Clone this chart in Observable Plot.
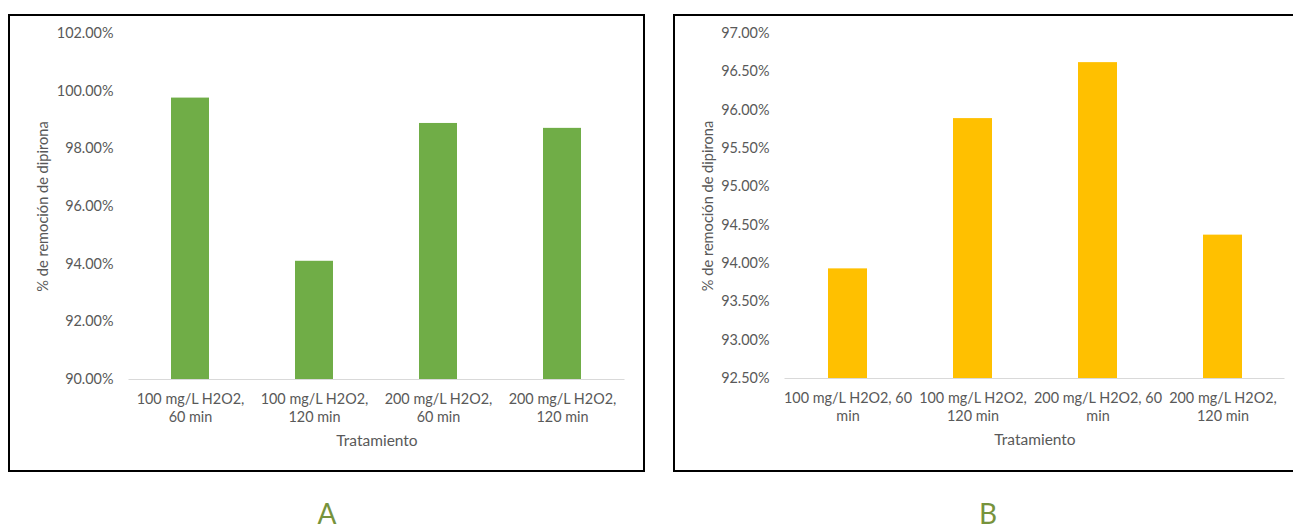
<!DOCTYPE html>
<html>
<head>
<meta charset="utf-8">
<script src="https://cdn.jsdelivr.net/npm/d3@7"></script>
<script src="https://cdn.jsdelivr.net/npm/@observablehq/plot@0.6"></script>
<style>
  html, body { margin: 0; padding: 0; background: #fff; }
  body { width: 1293px; height: 528px; position: relative; overflow: hidden; font-family: Lato, "Open Sans", sans-serif; }
  .frame { position: absolute; border: 2px solid #000; box-sizing: border-box; }
  .chart { position: absolute; }
  .panel-tag { position: absolute; width: 80px; margin-left: -40px; text-align: center; color: #77933c; font-size: 28px; font-weight: 400; line-height: 1; }
</style>
</head>
<body>
<div class="frame" style="left:8px; top:14px; width:637px; height:458px;"></div>
<div class="frame" style="left:673px; top:14px; width:660px; height:458px;"></div>
<div class="chart" id="chartA" style="left:10px; top:16px;"></div>
<div class="chart" id="chartB" style="left:675px; top:16px;"></div>
<div class="panel-tag" style="left:327px; top:499px;">A</div>
<div class="panel-tag" style="left:988px; top:499px;">B</div>
<script>
// Treatments (categories) for each panel; "\n" marks the wrapped second line
const categoriesA = ["100 mg/L H2O2,\n60 min", "100 mg/L H2O2,\n120 min", "200 mg/L H2O2,\n60 min", "200 mg/L H2O2,\n120 min"];
const categoriesB = ["100 mg/L H2O2, 60\nmin", "100 mg/L H2O2,\n120 min", "200 mg/L H2O2, 60\nmin", "200 mg/L H2O2,\n120 min"];

// % removal of dipyrone
const removalA = [99.76, 94.10, 98.88, 98.71];
const removalB = [93.93, 95.89, 96.62, 94.37];

// Value-axis ticks
const ticksA = [90, 92, 94, 96, 98, 100, 102];
const ticksB = [92.5, 93, 93.5, 94, 94.5, 95, 95.5, 96, 96.5, 97];

const xTitle = "Tratamiento";
const yTitle = "% de remoción de dipirona";

const textColor = "#595959";
const fontFamily = "Lato, 'Open Sans', sans-serif";

function barPanel({categories, values, ticks, fill, width, height, margins, yTitleOffset}) {
  const data = categories.map((c, i) => ({category: c, value: values[i]}));
  const yMin = ticks[0];
  const yMax = ticks[ticks.length - 1];
  return Plot.plot({
    width, height,
    ...margins,
    style: {fontFamily, fontSize: "14.4px", color: textColor, background: "transparent", overflow: "visible"},
    x: {domain: categories, paddingInner: 0.69, paddingOuter: 0.345},
    y: {domain: [yMin, yMax]},
    marks: [
      Plot.barY(data, {x: "category", y1: yMin, y2: "value", fill}),
      Plot.ruleY([yMin], {stroke: "#d9d9d9", strokeWidth: 1.2}),
      Plot.axisY({ticks, tickSize: 0, tickPadding: 15.5, tickFormat: d => d.toFixed(2) + "%", label: null, fill: textColor}),
      Plot.axisX({tickSize: 0, tickPadding: 11, lineHeight: 1.27, label: null, fill: textColor}),
      Plot.text([xTitle], {frameAnchor: "bottom", dy: 62, lineAnchor: "middle", fontSize: 15.5, fill: textColor}),
      Plot.text([yTitle], {frameAnchor: "left", dx: -yTitleOffset, rotate: -90, lineAnchor: "middle", textAnchor: "middle", fontSize: 14.6, fill: textColor})
    ]
  });
}

document.getElementById("chartA").append(barPanel({
  categories: categoriesA, values: removalA, ticks: ticksA, fill: "#70ad47",
  width: 633, height: 453,
  margins: {marginLeft: 118.5, marginRight: 18.5, marginTop: 17, marginBottom: 90},
  yTitleOffset: 85.5
}));

document.getElementById("chartB").append(barPanel({
  categories: categoriesB, values: removalB, ticks: ticksB, fill: "#ffc000",
  width: 618, height: 453,
  margins: {marginLeft: 109.5, marginRight: 8.5, marginTop: 17, marginBottom: 91},
  yTitleOffset: 76.5
}));
</script>
</body>
</html>
